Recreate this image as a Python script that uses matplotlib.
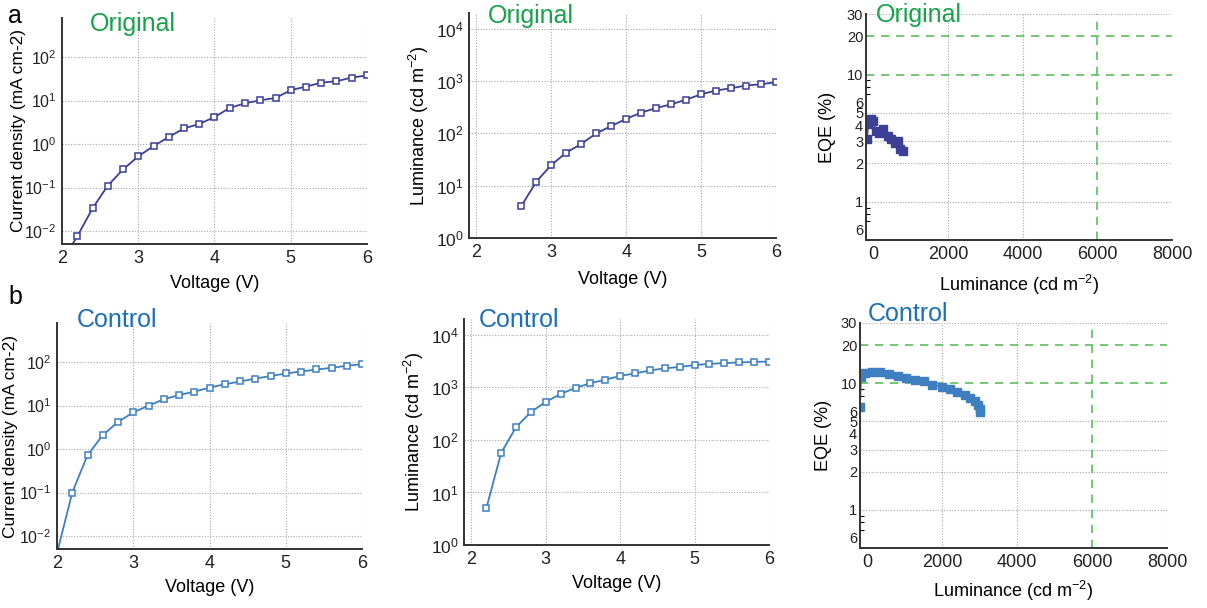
import numpy as np
import matplotlib.pyplot as plt
from matplotlib.ticker import FixedLocator, NullFormatter, LogLocator

plt.rcParams['font.family'] = ['Liberation Sans', 'DejaVu Sans']
plt.rcParams['mathtext.fontset'] = 'custom'
plt.rcParams['mathtext.rm'] = 'Liberation Sans'
plt.rcParams['mathtext.it'] = 'Liberation Sans:italic'
plt.rcParams['mathtext.bf'] = 'Liberation Sans:bold'

# ---- data ----
volt_orig_j = [2.0, 2.2, 2.4, 2.6, 2.8, 3.0, 3.2, 3.4, 3.6, 3.8, 4.0, 4.2, 4.4, 4.6, 4.8, 5.0, 5.2, 5.4, 5.6, 5.8, 6.0]
j_orig = [0.002, 0.0075, 0.033, 0.11, 0.26, 0.52, 0.9, 1.45, 2.3, 2.9, 4.2, 6.8, 8.7, 10.2, 11.5, 17.5, 21, 26, 28, 34, 38]

volt_orig_l = [2.6, 2.8, 3.0, 3.2, 3.4, 3.6, 3.8, 4.0, 4.2, 4.4, 4.6, 4.8, 5.0, 5.2, 5.4, 5.6, 5.8, 6.0]
lum_orig = [4.1, 12, 25, 43, 63, 100, 138, 190, 250, 305, 360, 440, 560, 660, 730, 820, 870, 950]

eqe_lum_orig = [-169, -142, -99, -54, -8, 72, 142, 249, 383, 482, 589, 651, 723, 784]
eqe_orig = [3.13, 4.11, 4.32, 4.45, 4.29, 3.58, 3.49, 3.76, 3.27, 3.13, 2.92, 2.99, 2.58, 2.49]

volt_ctrl_j = [2.0, 2.2, 2.4, 2.6, 2.8, 3.0, 3.2, 3.4, 3.6, 3.8, 4.0, 4.2, 4.4, 4.6, 4.8, 5.0, 5.2, 5.4, 5.6, 5.8, 6.0]
j_ctrl = [0.004, 0.1, 0.72, 2.1, 4.2, 7, 10, 14, 17.5, 21, 26, 31, 36, 42, 48, 55, 61, 68, 74, 83, 90]

volt_ctrl_l = [2.2, 2.4, 2.6, 2.8, 3.0, 3.2, 3.4, 3.6, 3.8, 4.0, 4.2, 4.4, 4.6, 4.8, 5.0, 5.2, 5.4, 5.6, 5.8, 6.0]
lum_ctrl = [5, 57, 175, 340, 530, 750, 980, 1200, 1400, 1650, 1850, 2100, 2300, 2450, 2650, 2800, 2900, 2980, 3050, 3100]

eqe_lum_ctrl = [-200, -170, -54, 127, 343, 568, 803, 1027, 1270, 1514, 1722, 1992, 2197, 2378, 2603, 2738, 2865, 2954, 3008, 3008]
eqe_ctrl = [6.5, 11.2, 12.1, 12.4, 12.3, 11.8, 11.35, 11.0, 10.7, 10.4, 9.77, 9.35, 8.97, 8.53, 8.05, 7.66, 7.21, 6.71, 6.32, 5.94]

eqe_ticks = [0.6, 1, 2, 3, 4, 5, 6, 10, 20, 30]
eqe_ticklabels = ["6", "1", "2", "3", "4", "5", "6", "10", "20", "30"]

C_ORIG = "#3b3f96"
C_CTRL = "#3d7fc1"
C_GREEN_TXT = "#16a34a"
C_BLUE_TXT = "#1c6fbb"
C_DASH = "#5cbf5c"
GRID = dict(color="#a8a8a8", linestyle=(0, (1, 1.5)), linewidth=0.8)

W, H = 1207, 608
fig = plt.figure(figsize=(W / 100, H / 100), dpi=100)


def add_ax(l, r, t, b):
    ax = fig.add_axes([l / W, 1 - b / H, (r - l) / W, (b - t) / H])
    ax._px = (r - l, b - t)
    return ax


def style(ax):
    for s in ("top", "right"):
        ax.spines[s].set_visible(False)
    for s in ("left", "bottom"):
        ax.spines[s].set_color("#333333")
        ax.spines[s].set_linewidth(1.4)
    ax.tick_params(direction="in", length=0, labelsize=13, colors="#222222", pad=4)
    ax.tick_params(which="minor", length=0)


def place_labels(ax, xlab, ylab, xoff, yoff, fs=13):
    # centres of the axis labels, in pixels from the axes edges
    w, h = ax._px
    ax.set_xlabel(xlab, fontsize=13)
    ax.set_ylabel(ylab, fontsize=fs)
    ax.xaxis.set_label_coords(0.5, -xoff / h)
    ax.xaxis.label.set_va("center")
    ax.yaxis.set_label_coords(-yoff / w, 0.5)
    ax.yaxis.label.set_va("center")


def jv_panel(ax, v, j, color, tag, tcolor, tpos, xoff, yoff):
    style(ax)
    ax.plot(v, j, "-s", color=color, mfc="white", mec=color, ms=5, lw=1.3, mew=1.1)
    ax.set_yscale("log")
    ax.set_xlim(2, 6)
    ax.set_ylim(5e-3, 8e2)
    ax.set_xticks([2, 3, 4, 5, 6])
    ax.yaxis.set_major_locator(FixedLocator([1e-2, 1e-1, 1, 10, 100]))
    ax.set_yticklabels([r"$10^{-2}$", r"$10^{-1}$", r"$10^{0}$", r"$10^{1}$", r"$10^{2}$"], fontsize=11.5)
    ax.yaxis.set_minor_formatter(NullFormatter())
    for y in [1e-2, 1e-1, 1, 10, 100]:
        ax.axhline(y, zorder=0, **GRID)
    for x in [3, 4, 5, 6]:
        ax.axvline(x, zorder=0, **GRID)
    place_labels(ax, "Voltage (V)", "Current density (mA cm-2)", xoff, yoff, fs=12.5)
    ax.text(tpos[0], tpos[1], tag, transform=ax.transAxes, color=tcolor, fontsize=18, va="center")


def lv_panel(ax, v, lum, color, tag, tcolor, tpos, xoff, yoff):
    style(ax)
    ax.plot(v, lum, "-s", color=color, mfc="white", mec=color, ms=5, lw=1.3, mew=1.1)
    ax.set_yscale("log")
    ax.set_xlim(1.9, 6)
    ax.set_ylim(1, 2e4)
    ax.set_xticks([2, 3, 4, 5, 6])
    ax.yaxis.set_major_locator(FixedLocator([1, 10, 100, 1e3, 1e4]))
    ax.set_yticklabels([r"$10^{0}$", r"$10^{1}$", r"$10^{2}$", r"$10^{3}$", r"$10^{4}$"], fontsize=12.5)
    ax.yaxis.set_minor_formatter(NullFormatter())
    for y in [10, 100, 1e3, 1e4]:
        ax.axhline(y, zorder=0, **GRID)
    for x in [2, 3, 4, 5, 6]:
        ax.axvline(x, zorder=0, **GRID)
    place_labels(ax, "Voltage (V)", "Luminance (cd m$^{-2}$)", xoff, yoff)
    ax.text(tpos[0], tpos[1], tag, transform=ax.transAxes, color=tcolor, fontsize=18, va="center")


def eqe_panel(ax, lum, eqe, color, tag, tcolor, tpos, xoff, yoff):
    style(ax)
    ax.plot(lum, eqe, "-s", color=color, ms=6, lw=1.2)
    ax.set_yscale("log")
    ax.set_xlim(-200, 8000)
    ax.set_ylim(0.5, 30)
    ax.set_xticks([0, 2000, 4000, 6000, 8000])
    ax.yaxis.set_major_locator(FixedLocator(eqe_ticks))
    ax.set_yticklabels(eqe_ticklabels, fontsize=10.5)
    ax.yaxis.set_minor_locator(LogLocator(subs=np.arange(2, 10)))
    ax.yaxis.set_minor_formatter(NullFormatter())
    ax.tick_params(axis="y", which="minor", length=3, width=0.8, direction="in")
    ax.tick_params(axis="y", which="major", pad=2)
    for y in [1, 2, 3, 5, 30]:
        ax.axhline(y, zorder=0, **GRID)
    for x in [2000, 4000, 8000]:
        ax.axvline(x, zorder=0, **GRID)
    for y in [10, 20]:
        ax.axhline(y, color=C_DASH, ls=(0, (5, 4)), lw=1.2, zorder=0)
    ax.axvline(6000, color=C_DASH, ls=(0, (5, 4)), lw=1.2, zorder=0)
    place_labels(ax, "Luminance (cd m$^{-2}$)", "EQE (%)", xoff, yoff)
    ax.text(tpos[0], tpos[1], tag, transform=ax.transAxes, color=tcolor, fontsize=18, va="center")


jv_panel(add_ax(62, 367, 18, 244), volt_orig_j, j_orig, C_ORIG, "Original", C_GREEN_TXT,
         (0.092, 0.973), 39, 44)
lv_panel(add_ax(469, 776, 13, 238), volt_orig_l, lum_orig, C_ORIG, "Original", C_GREEN_TXT,
         (0.062, 0.985), 41, 50)
eqe_panel(add_ax(866, 1172, 14, 240), eqe_lum_orig, eqe_orig, C_ORIG, "Original", C_GREEN_TXT,
          (0.033, 0.995), 45, 39)

jv_panel(add_ax(57, 362, 323, 549), volt_ctrl_j, j_ctrl, C_CTRL, "Control", C_BLUE_TXT,
         (0.066, 1.013), 39, 46)
lv_panel(add_ax(464, 769, 319, 545), volt_ctrl_l, lum_ctrl, C_CTRL, "Control", C_BLUE_TXT,
         (0.049, 0.996), 39, 50)
eqe_panel(add_ax(860, 1167, 323, 548), eqe_lum_ctrl, eqe_ctrl, C_CTRL, "Control", C_BLUE_TXT,
          (0.026, 1.04), 43, 37)

fig.text(8 / W, 1 - 16 / H, "a", fontsize=18, va="center", ha="left")
fig.text(8 / W, 1 - 297 / H, "b", fontsize=18, va="center", ha="left")

fig.savefig("out.png", dpi=100, facecolor="white")
